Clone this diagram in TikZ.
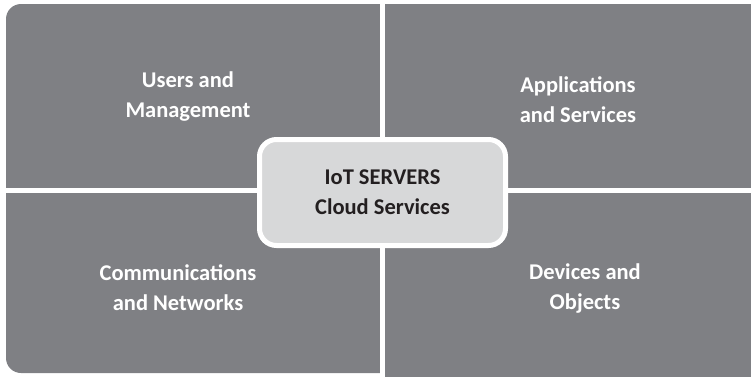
\documentclass[tikz,border=0pt]{standalone}
\usepackage{fontspec}
\setmainfont{Carlito}
\usepackage{tikz}
\usetikzlibrary{positioning}
\definecolor{qgray}{HTML}{7F8084}
\definecolor{clight}{HTML}{D7D8D9}
\definecolor{ctext}{HTML}{231F20}
\tikzset{
  panel/.style={fill=qgray, draw=none, rounded corners=15pt},
  gap/.style={draw=white, line width=5pt},
  qlabel/.style={text=white, font=\fontsize{22.5}{30}\selectfont\bfseries, align=center},
  hubbox/.style={fill=clight, draw=white, line width=5pt, rounded corners=17pt,
                 minimum width=246pt, minimum height=106pt,
                 text=ctext, font=\fontsize{22.5}{30}\selectfont\bfseries, align=center},
}
\begin{document}
\begin{tikzpicture}[x=1pt, y=-1pt]
  \useasboundingbox (0,0) rectangle (751,376);
  \clip (0,0) rectangle (751,376);
  % panels, split by white gaps
  \fill[panel] (6,4) rectangle (766,373);
  \fill[qgray] (380,360) rectangle (770,390);
  \coordinate (gtop) at (382.5,-5);
  \coordinate (gbot) at (382.5,385);
  \coordinate (gleft) at (0,190.5);
  \coordinate (gright) at (760,190.5);
  \draw[gap] (gtop) -- (gbot);
  \draw[gap] (gleft) -- (gright);
  % labels
  \node[qlabel] (users) at (188,97) {Users and\\Management};
  \node[qlabel] (apps) at (578,100) {Applications\\and Services};
  \node[qlabel] (comm) at (178,288) {Communications\\and Networks};
  \node[qlabel] (dev) at (585,288) {Devices and\\Objects};
  % hub
  \node[hubbox] (hub) at (382.5,192.5) {IoT SERVERS\\Cloud Services};
\end{tikzpicture}
\end{document}
